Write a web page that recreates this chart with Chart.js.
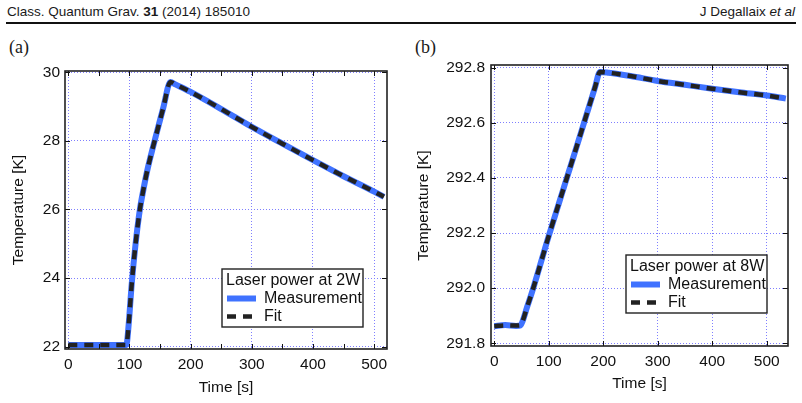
<!DOCTYPE html>
<html>
<head>
<meta charset="utf-8">
<script src="https://cdn.jsdelivr.net/npm/chart.js@4.4.1/dist/chart.umd.min.js"></script>
<style>
body{margin:0;width:802px;height:403px;background:#fff;position:relative;overflow:hidden;font-family:"Liberation Sans",Arial,sans-serif;color:#1a1a1a}
.hdr{position:absolute;top:4px;font-size:13.5px;white-space:nowrap}
.rule{position:absolute;left:6px;right:6px;top:22px;height:2px;background:#111}
.tag{position:absolute;top:37px;font-family:"Liberation Serif",serif;font-size:18px}
.panel{position:absolute;top:30px;width:400px;height:373px}
</style>
</head>
<body>
<div class="hdr" style="left:7px">Class. Quantum Grav. <b>31</b> (2014) 185010</div>
<div class="hdr" style="right:7px">J Degallaix <i>et al</i></div>
<div class="rule"></div>
<div class="tag" style="left:9px">(a)</div>
<div class="tag" style="left:415px">(b)</div>
<div class="panel" style="left:0"><canvas id="chartA" width="400" height="373"></canvas></div>
<div class="panel" style="left:402px"><canvas id="chartB" width="400" height="373"></canvas></div>
<script>
// panel (a): laser power 2W
var aTime = [0, 95, 98, 104, 110, 117, 123, 128, 136, 144, 155, 167, 175, 200, 250, 300, 350, 400, 450, 500, 516];
var aMeas = [22.05, 22.05, 22.5, 23.9, 25.0, 26.0, 26.6, 27.05, 27.65, 28.2, 28.95, 29.72, 29.65, 29.43, 28.93, 28.41, 27.92, 27.44, 26.97, 26.52, 26.37];
var aFit  = [22.05, 22.05, 22.5, 23.9, 25.0, 26.0, 26.6, 27.05, 27.65, 28.2, 28.95, 29.72, 29.65, 29.43, 28.93, 28.41, 27.92, 27.44, 26.97, 26.52, 26.37];
var aTicksX = [0, 100, 200, 300, 400, 500];
var aMinorX = [50, 150, 250, 350, 450];
var aTicksY = [22, 24, 26, 28, 30];

// panel (b): laser power 8W
var bTime = [0, 20, 40, 48, 52, 60, 70, 100, 130, 160, 185, 194, 210, 250, 300, 350, 400, 450, 500, 535];
var bMeas = [291.862, 291.866, 291.863, 291.865, 291.88, 291.93, 291.99, 292.19, 292.38, 292.57, 292.73, 292.785, 292.782, 292.77, 292.752, 292.738, 292.724, 292.711, 292.699, 292.688];
var bFit  = [291.862, 291.865, 291.864, 291.865, 291.88, 291.93, 291.99, 292.19, 292.38, 292.57, 292.73, 292.785, 292.782, 292.77, 292.752, 292.738, 292.724, 292.711, 292.699, 292.688];
var bTicksX = [0, 100, 200, 300, 400, 500];
var bMinorX = [];
var bTicksY = [291.8, 292.0, 292.2, 292.4, 292.6, 292.8];

var seriesNames = ['Measurement', 'Fit'];

function pts(xs, ys){
    return xs.map(function(x, i){ return {x: x, y: ys[i]}; });
}

var boxPlugin = {
    id: 'box',
    afterDatasetsDraw: function(chart, args, o){
        var ctx = chart.ctx, a = chart.chartArea;
        var sx = chart.scales.x, sy = chart.scales.y;
        ctx.save();
        ctx.strokeStyle = '#111';
        ctx.lineWidth = 1;
        o.ticksX.concat(o.minorX).forEach(function(v){
            var px = Math.round(sx.getPixelForValue(v)) + 0.5;
            ctx.beginPath();
            ctx.moveTo(px, a.bottom); ctx.lineTo(px, a.bottom - 5);
            ctx.moveTo(px, a.top); ctx.lineTo(px, a.top + 5);
            ctx.stroke();
        });
        o.ticksY.forEach(function(v){
            var py = Math.round(sy.getPixelForValue(v)) + 0.5;
            ctx.beginPath();
            ctx.moveTo(a.left, py); ctx.lineTo(a.left + 5, py);
            ctx.moveTo(a.right, py); ctx.lineTo(a.right - 5, py);
            ctx.stroke();
        });
        ctx.lineWidth = 1.6;
        ctx.strokeStyle = '#222';
        ctx.strokeRect(a.left, a.top, a.right - a.left, a.bottom - a.top);

        // legend box
        var L = o.legend;
        var bx = a.right - L.right - L.w, by = a.bottom - L.bottom - L.h;
        ctx.fillStyle = '#fff';
        ctx.fillRect(bx, by, L.w, L.h);
        ctx.lineWidth = 1.4;
        ctx.strokeStyle = '#222';
        ctx.strokeRect(bx, by, L.w, L.h);
        ctx.fillStyle = '#111';
        ctx.font = '16px "Liberation Sans", Arial, sans-serif';
        ctx.textBaseline = 'middle';
        ctx.fillText(L.title, bx + 4, by + 12);
        chart.data.datasets.forEach(function(ds, i){
            var ly = by + 29.5 + i * 18;
            ctx.beginPath();
            ctx.lineWidth = ds.borderWidth;
            ctx.strokeStyle = ds.borderColor;
            ctx.setLineDash(ds.borderDash || []);
            ctx.moveTo(bx + 5, ly); ctx.lineTo(bx + 34, ly);
            ctx.stroke();
            ctx.setLineDash([]);
            ctx.fillText(ds.label, bx + 42, ly);
        });
        ctx.restore();
    }
};

function makePanel(id, t, meas, fit, ticksX, minorX, ticksY, geom){
    var fontAx = {family: '"Liberation Sans", Arial, sans-serif', size: 15.5};
    new Chart(document.getElementById(id), {
        type: 'line',
        data: {
            datasets: [{
                label: seriesNames[0],
                data: pts(t, meas),
                borderColor: '#3f72ff',
                borderWidth: 6,
                pointRadius: 0,
                cubicInterpolationMode: 'monotone',
                order: 2
            },
            {
                label: seriesNames[1],
                data: pts(t, fit),
                borderColor: '#222222',
                borderWidth: 4.5,
                borderDash: [9, 7],
                borderCapStyle: 'butt',
                pointRadius: 0,
                cubicInterpolationMode: 'monotone',
                order: 1
            }]
        },
        options: {
            responsive: false,
            animation: false,
            layout: {padding: {left: 0, top: geom.top, right: geom.right, bottom: 0}},
            plugins: {
                legend: {display: false},
                tooltip: {enabled: false},
                box: {ticksX: ticksX, minorX: minorX, ticksY: ticksY, legend: geom.legend}
            },
            scales: {
                x: {
                    type: 'linear',
                    min: geom.xmin, max: geom.xmax,
                    afterBuildTicks: function(s){ s.ticks = ticksX.map(function(v){ return {value: v}; }); },
                    afterFit: function(s){ s.height = geom.xh; },
                    grid: {color: '#7f7fff', lineWidth: 1, drawTicks: false},
                    border: {display: false, dash: [1, 2]},
                    ticks: {color: '#111', font: fontAx, padding: geom.xpad, maxRotation: 0},
                    title: {display: true, text: 'Time [s]', color: '#111', font: fontAx, padding: {top: 0, bottom: geom.xtpad}}
                },
                y: {
                    min: geom.ymin, max: geom.ymax,
                    afterBuildTicks: function(s){ s.ticks = ticksY.map(function(v){ return {value: v}; }); },
                    afterFit: function(s){ s.width = geom.yw; },
                    grid: {color: '#7f7fff', lineWidth: 1, drawTicks: false},
                    border: {display: false, dash: [1, 2]},
                    ticks: {color: '#111', font: fontAx, padding: geom.ypad,
                        callback: function(v){ return geom.dec ? v.toFixed(geom.dec) : v; }},
                    title: {display: true, text: 'Temperature [K]', color: '#111', font: fontAx, padding: {top: geom.ytpad, bottom: 0}}
                }
            }
        },
        plugins: [boxPlugin]
    });
}

makePanel('chartA', aTime, aMeas, aFit, aTicksX, aMinorX, aTicksY, {
    top: 41, right: 13, xh: 54, yw: 65, xmin: -5.4, xmax: 521, ymin: 21.93, ymax: 30.04,
    xpad: 6, xtpad: 6, ypad: 5, ytpad: 9, dec: 0,
    legend: {right: 24, bottom: 22, w: 141, h: 58, title: 'Laser power at 2W'}
});
makePanel('chartB', bTime, bMeas, bFit, bTicksX, bMinorX, bTicksY, {
    top: 35, right: 14, xh: 57, yw: 89, xmin: -6, xmax: 539, ymin: 291.79, ymax: 292.81,
    xpad: 6, xtpad: 10, ypad: 6, ytpad: 12, dec: 1,
    legend: {right: 21, bottom: 33, w: 141, h: 58, title: 'Laser power at 8W'}
});
</script>
</body>
</html>
